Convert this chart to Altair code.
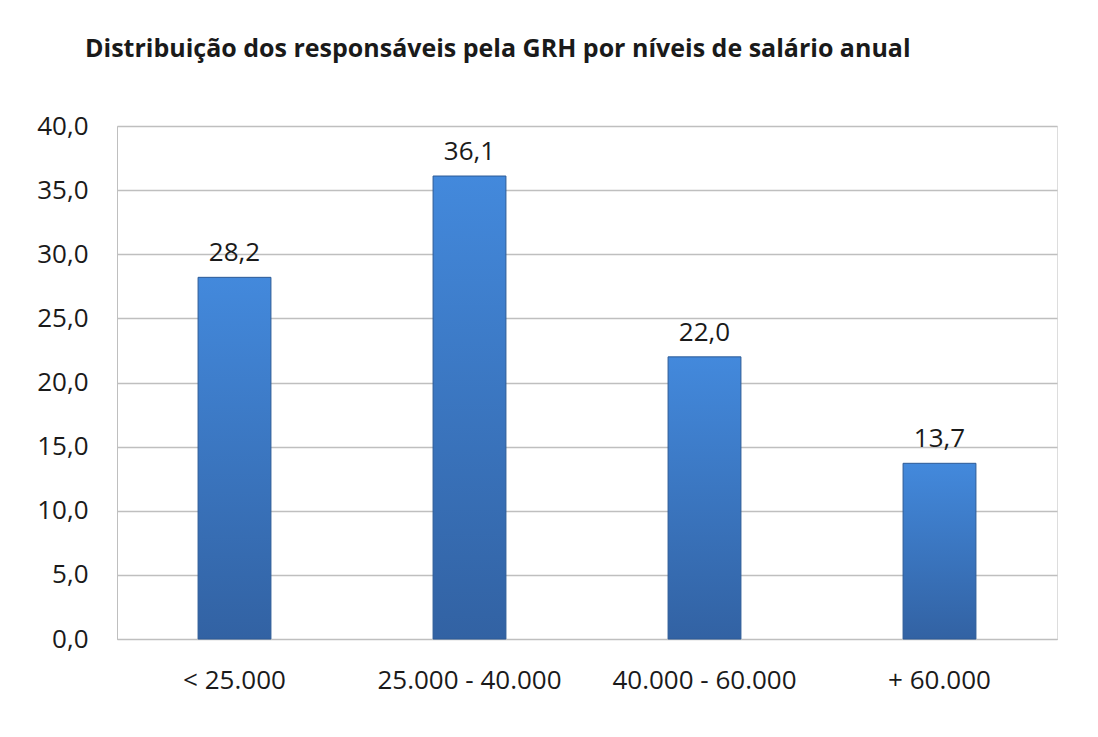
import altair as alt
import pandas as pd

categories = ["< 25.000", "25.000 - 40.000", "40.000 - 60.000", "+ 60.000"]
values = [28.2, 36.1, 22.0, 13.7]
labels = ["28,2", "36,1", "22,0", "13,7"]

df = pd.DataFrame({"cat": categories, "val": values, "lab": labels})

FONT = "Open Sans"

x = alt.X("cat:N", sort=categories, title=None,
          scale=alt.Scale(paddingInner=0.69, paddingOuter=0.345),
          axis=alt.Axis(labelAngle=0, labelFontSize=26, labelColor="#1a1a1a",
                        labelFont=FONT, ticks=False, domain=True, domainColor="#bfbfbf",
                        labelPadding=28, labelLimit=400, labelOverlap=False, grid=False))
y = alt.Y("val:Q", title=None,
          scale=alt.Scale(domain=[0, 40], nice=False),
          axis=alt.Axis(values=[0, 5, 10, 15, 20, 25, 30, 35, 40],
                        labelExpr="replace(format(datum.value, '.1f'), '.', ',')",
                        labelFontSize=26, labelColor="#1a1a1a", labelFont=FONT,
                        ticks=False, domain=True, domainColor="#bfbfbf",
                        labelPadding=29, grid=True, gridColor="#bfbfbf",
                        gridWidth=1.5))

bars = alt.Chart(df).mark_bar(
    color=alt.Gradient(
        gradient="linear", x1=0, y1=0, x2=0, y2=1,
        stops=[alt.GradientStop(offset=0, color="#4389dc"),
               alt.GradientStop(offset=1, color="#3262a3")]),
    stroke="#2c5a96", strokeWidth=1
).encode(x=x, y=y)

text = alt.Chart(df).mark_text(
    dy=-24, fontSize=26, font=FONT, color="#1a1a1a"
).encode(x=alt.X("cat:N", sort=categories), y="val:Q", text="lab:N")

chart = alt.layer(bars, text).properties(
    width=940, height=513,
    autosize=alt.AutoSizeParams(type="none"),
    padding={"left": 109, "top": 118, "right": 25, "bottom": 80},
    title=alt.TitleParams(
        "Distribuição dos responsáveis pela GRH por níveis de salário anual",
        anchor="start", frame="group", dx=-32, offset=51, fontSize=25,
        fontWeight="bold", font=FONT, color="#1a1a1a")
).configure_view(stroke=None).configure(background="white")

chart.save("out.html", embed_options={"renderer": "svg", "actions": False})
